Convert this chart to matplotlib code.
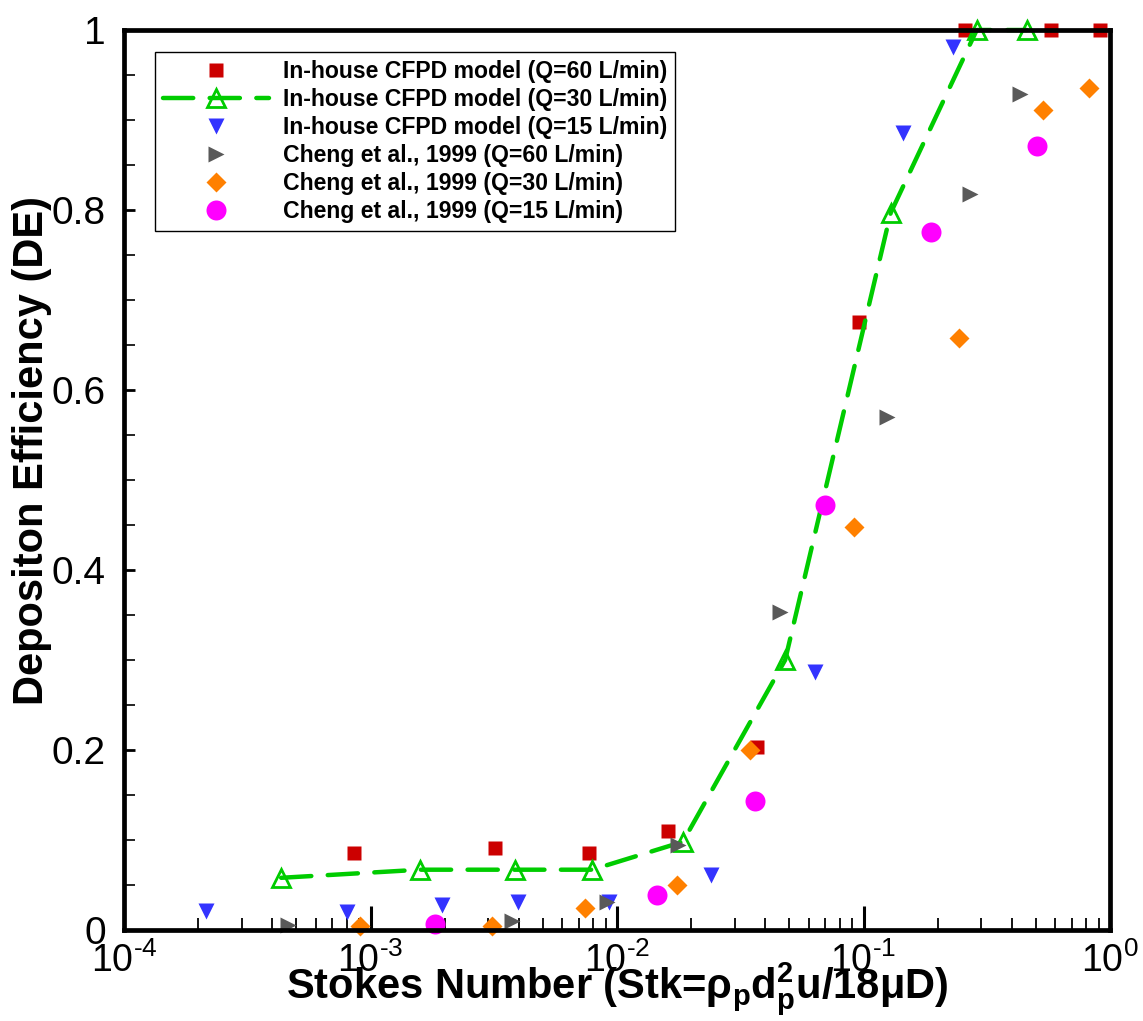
import math
import matplotlib
matplotlib.use("Agg")
import matplotlib.pyplot as plt
from matplotlib.ticker import LogLocator, FixedLocator, MultipleLocator, FuncFormatter

plt.rcParams['font.family'] = ['Liberation Sans', 'DejaVu Sans']
plt.rcParams['mathtext.fontset'] = 'custom'
plt.rcParams['mathtext.rm'] = 'Liberation Sans'
plt.rcParams['mathtext.it'] = 'Liberation Sans'
plt.rcParams['mathtext.bf'] = 'Liberation Sans:bold'

# ---- data ----
cfpd60_x = [8.57e-4, 3.20e-3, 7.69e-3, 0.0161, 0.0370, 0.0960, 0.258, 0.577, 0.910]
cfpd60_y = [0.086, 0.091, 0.086, 0.110, 0.203, 0.676, 1.0, 1.0, 1.0]

cfpd30_x = [4.34e-4, 1.59e-3, 3.85e-3, 7.93e-3, 0.0185, 0.0481, 0.129, 0.288, 0.460]
cfpd30_y = [0.058, 0.067, 0.067, 0.067, 0.098, 0.300, 0.797, 1.0, 1.0]

cfpd15_x = [2.15e-4, 8.03e-4, 1.95e-3, 3.96e-3, 9.29e-3, 0.0240, 0.0635, 0.1445, 0.231]
cfpd15_y = [0.021, 0.020, 0.028, 0.031, 0.031, 0.061, 0.287, 0.886, 0.981]

cheng60_x = [4.62e-4, 3.75e-3, 9.10e-3, 0.0177, 0.0458, 0.1245, 0.270, 0.431]
cheng60_y = [0.006, 0.010, 0.031, 0.094, 0.353, 0.570, 0.818, 0.929]

cheng30_x = [9.06e-4, 3.11e-3, 7.41e-3, 0.0175, 0.0347, 0.0914, 0.244, 0.535, 0.822]
cheng30_y = [0.005, 0.005, 0.024, 0.050, 0.200, 0.448, 0.658, 0.911, 0.935]

cheng15_x = [1.83e-3, 0.0145, 0.0363, 0.0698, 0.188, 0.506]
cheng15_y = [0.007, 0.039, 0.143, 0.472, 0.776, 0.871]

labels = ["In-house CFPD model (Q=60 L/min)",
          "In-house CFPD model (Q=30 L/min)",
          "In-house CFPD model (Q=15 L/min)",
          "Cheng et al., 1999 (Q=60 L/min)",
          "Cheng et al., 1999 (Q=30 L/min)",
          "Cheng et al., 1999 (Q=15 L/min)"]

fig = plt.figure(figsize=(11.43, 10.21), dpi=100)
W, H = 1143, 1021
ax = fig.add_axes([124 / W, 1 - 930 / H, (1110 - 124) / W, 900 / H])

kw = dict(linestyle='none', clip_on=False)
ax.plot(cfpd60_x, cfpd60_y, marker='s', ms=10, color='#CC0000', mec='none', label=labels[0], **kw)
ax.plot(cfpd30_x, cfpd30_y, marker='^', ms=13, color='#00CC00', mfc='none', mew=2.0,
        linestyle=(0, (6.8, 3.7)), lw=3.2, dash_capstyle='round', clip_on=False, label=labels[1])
ax.plot(cfpd15_x, cfpd15_y, marker='v', ms=12, color='#3333FF', mec='none', label=labels[2], **kw)
ax.plot(cheng60_x, cheng60_y, marker='>', ms=12, color='#595959', mec='none', label=labels[3], **kw)
ax.plot(cheng30_x, cheng30_y, marker='D', ms=9.8, color='#FF8000', mec='none', label=labels[4], **kw)
ax.plot(cheng15_x, cheng15_y, marker='o', ms=14.4, color='#FF00FF', mec='none', label=labels[5], **kw)

ax.set_xscale('log')
ax.set_xlim(1e-4, 1.0)
ax.set_ylim(0, 1)


def xfmt(v, p):
    e = round(math.log10(v))
    sup = ("\u2010%d" % -e) if e < 0 else "%d" % e
    return r"$\mathregular{10^{%s}}$" % sup


ax.xaxis.set_major_locator(FixedLocator([1e-4, 1e-3, 1e-2, 1e-1, 1e0]))
ax.xaxis.set_minor_locator(LogLocator(base=10, subs=range(2, 10), numticks=20))
ax.xaxis.set_major_formatter(FuncFormatter(xfmt))
ax.yaxis.set_major_locator(MultipleLocator(0.2))
ax.yaxis.set_minor_locator(MultipleLocator(0.05))
ax.yaxis.set_major_formatter(FuncFormatter(lambda v, p: "%g" % round(v, 2)))

for s in ax.spines.values():
    s.set_linewidth(3.4)
ax.tick_params(axis='x', which='major', direction='in', length=17, width=2.2, labelsize=27, pad=9)
ax.tick_params(axis='x', which='minor', direction='in', length=8.6, width=1.3)
ax.tick_params(axis='y', which='major', direction='in', length=8, width=2.0, labelsize=28, pad=13)
ax.tick_params(axis='y', which='minor', direction='in', length=8, width=1.2)

ax.set_xlabel(r"Stokes Number (Stk=$\mathregular{\rho_{\mathbf{p}}}\mathbf{d_p^2u/18}\mathregular{\mu}\mathbf{D}$)",
              fontsize=30, fontweight='bold')
ax.xaxis.set_label_coords(0.5, -0.034)
ax.xaxis.label.set_va('top')

ax.set_ylabel("Depositon Efficiency (DE)", fontsize=30, fontweight='bold')
ax.yaxis.set_label_coords(-0.073, 0.533)

leg = ax.legend(loc='upper left', bbox_to_anchor=(155 / W, 1 - 52 / H), bbox_transform=fig.transFigure,
                prop={'family': 'Liberation Sans', 'weight': 'bold', 'size': 16.6},
                fancybox=False, framealpha=1, edgecolor='black', borderpad=0.35,
                handlelength=4.6, handletextpad=0.6, labelspacing=0.22, borderaxespad=0)
leg.get_frame().set_linewidth(1.0)

fig.savefig("out.png", dpi=100)
